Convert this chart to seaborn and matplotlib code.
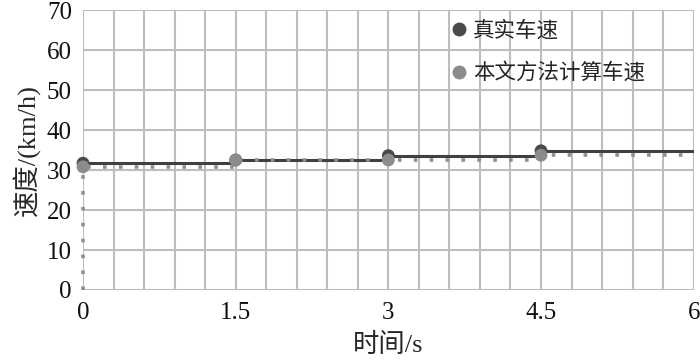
import numpy as np
import seaborn as sns
import matplotlib.pyplot as plt
from matplotlib.lines import Line2D

# data
time_s = [0, 1.5, 3, 4.5, 6]
real_speed = [31.7, 32.5, 33.6, 34.8, 34.8]
calc_speed = [30.8, 32.5, 32.5, 33.7, 33.7]
calc_start = 0  # estimated curve rises from 0 at t=0

x_ticks = [0, 1.5, 3, 4.5, 6]
y_ticks = [0, 10, 20, 30, 40, 50, 60, 70]
labels = ["真实车速", "本文方法计算车速"]

sns.set_style("white")
plt.rcParams['font.family'] = ['Liberation Serif', 'Noto Sans CJK SC', 'DejaVu Sans']

fig, ax = plt.subplots(figsize=(7, 3.64), dpi=100)
fig.subplots_adjust(left=0.1186, right=0.991, top=0.9725, bottom=0.2033)

dark_line = '#404040'
dark_mark = '#4a4a4a'
light_line = '#8f8f8f'
light_mark = '#8c8c8c'

# step lines
sns.lineplot(x=time_s, y=real_speed, ax=ax, color=dark_line, linewidth=2.2,
             drawstyle='steps-post', estimator=None, sort=False, zorder=3)
sns.lineplot(x=[0] + time_s, y=[calc_start] + calc_speed, ax=ax, color=light_line,
             linewidth=2.6, linestyle=(0, (1, 3.4)), drawstyle='steps-post',
             estimator=None, sort=False, zorder=4, clip_on=False)

# markers at the sample points
sns.scatterplot(x=time_s[:-1], y=real_speed[:-1], ax=ax, color=dark_mark, s=85,
                edgecolor='none', zorder=5, clip_on=False)
sns.scatterplot(x=time_s[:-1], y=calc_speed[:-1], ax=ax, color=light_mark, s=85,
                edgecolor='none', zorder=6, clip_on=False)

ax.set_xlim(0, 6)
ax.set_ylim(0, 70)
ax.set_xticks(x_ticks)
ax.set_xticklabels(['0', '1.5', '3', '4.5', '6'])
ax.set_xticks(np.arange(0, 6.01, 0.3), minor=True)
ax.set_yticks(y_ticks)
ax.grid(True, which='both', color='#bdbdbd', linewidth=1.5, zorder=0)
ax.set_axisbelow(True)
for sp in ax.spines.values():
    sp.set_visible(False)
ax.tick_params(axis='both', which='both', length=0, labelsize=18, colors='#111111')
ax.tick_params(axis='y', pad=8)
ax.tick_params(axis='x', pad=9)

ax.set_xlabel("时间/s", fontsize=19, labelpad=6)
ax.set_ylabel("速度/(km/h)", fontsize=19, labelpad=4)

handles = [Line2D([], [], marker='o', linestyle='none', color=dark_mark, markersize=9),
           Line2D([], [], marker='o', linestyle='none', color=light_mark, markersize=9)]
ax.legend(handles, labels, loc='upper left', bbox_to_anchor=(0.57, 1.035), frameon=False,
          prop={'family': ['Noto Sans CJK SC'], 'size': 15.5}, labelspacing=0.95,
          handletextpad=0.25, handlelength=0.8)

fig.savefig('out.png', dpi=100)
